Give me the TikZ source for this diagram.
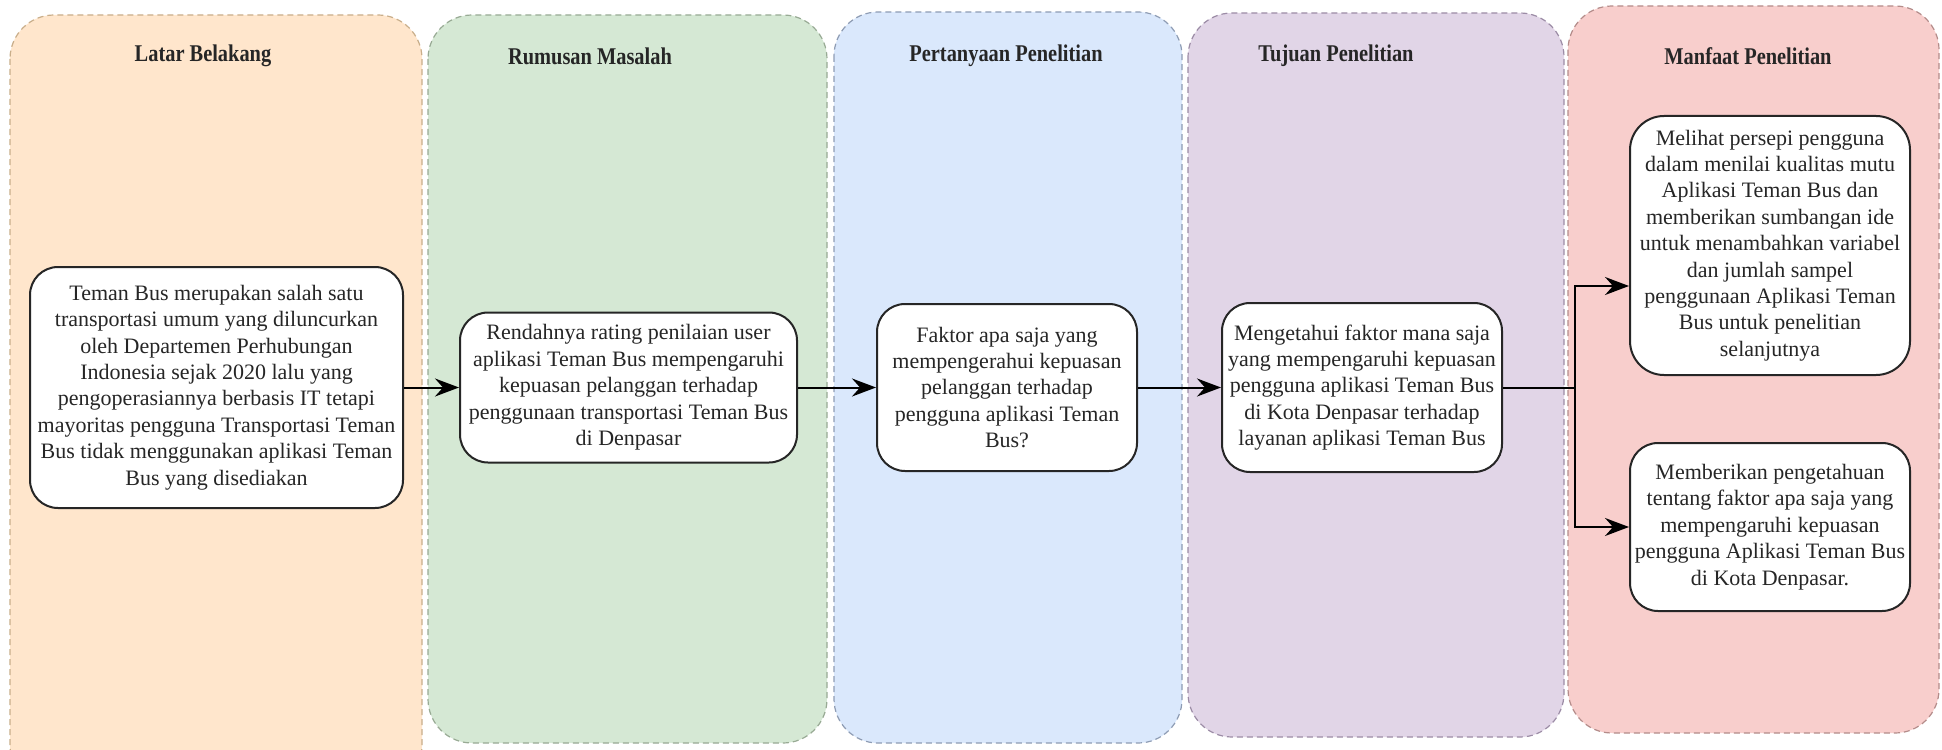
\documentclass[tikz,border=0pt]{standalone}
\usepackage{fontspec}
\setmainfont{Liberation Serif}
\newfontfamily\titlefont[FakeStretch=0.85]{Liberation Serif}
\usetikzlibrary{arrows.meta}
\definecolor{orfill}{HTML}{FFE6CC}\definecolor{ordraw}{HTML}{C9AE8A}
\definecolor{grfill}{HTML}{D5E8D4}\definecolor{grdraw}{HTML}{98AA94}
\definecolor{blfill}{HTML}{DAE8FC}\definecolor{bldraw}{HTML}{8E9CB4}
\definecolor{pufill}{HTML}{E1D5E7}\definecolor{pudraw}{HTML}{9C8CA6}
\definecolor{refill}{HTML}{F8CECC}\definecolor{redraw}{HTML}{B48C8A}
\definecolor{txt}{HTML}{262626}
\tikzset{
  panel/.style={line width=0.6pt, dash pattern=on 3pt off 2pt, rounded corners=22pt},
  ptitle/.style={font=\titlefont\bfseries\fontsize{12}{14}\selectfont, text=txt, inner sep=0pt},
  box/.style={draw=black!85, line width=1pt, fill=white, rounded corners=14pt, align=center,
    font=\fontsize{11}{13.2}\selectfont, text=txt, inner sep=0pt},
  conn/.style={draw=black, line width=1pt},
  arr/.style={conn, -{Stealth[length=12pt,width=9pt,inset=4pt]}}
}
\begin{document}
\begin{tikzpicture}[x=0.5pt,y=-0.5pt]
\useasboundingbox (0,0) rectangle (1942,749);
\fill[white] (0,0) rectangle (1942,749);
\clip (0,0) rectangle (1942,749);
% panels
\path[panel, fill=orfill, draw=ordraw] (10,15) rectangle (422,790);
\path[panel, fill=grfill, draw=grdraw] (428,15) rectangle (827,743);
\path[panel, fill=blfill, draw=bldraw] (834,12) rectangle (1182,743);
\path[panel, fill=pufill, draw=pudraw] (1188,13) rectangle (1564,737);
\path[panel, fill=refill, draw=redraw] (1568,6) rectangle (1939,733);
% titles
\node[ptitle] (t1) at (203,56) {Latar Belakang};
\node[ptitle] (t2) at (590,56) {Rumusan Masalah};
\node[ptitle] (t3) at (1006,56) {Pertanyaan Penelitian};
\node[ptitle] (t4) at (1336,56) {Tujuan Penelitian};
\node[ptitle] (t5) at (1748,56) {Manfaat Penelitian};
% boxes
\node[box, minimum width=373pt*0.5, minimum height=241pt*0.5] (b1) at (216.5,387.5)
 {Teman Bus merupakan salah satu\\transportasi umum yang diluncurkan\\oleh Departemen Perhubungan\\Indonesia sejak 2020 lalu yang\\pengoperasiannya berbasis IT tetapi\\mayoritas pengguna Transportasi Teman\\Bus tidak menggunakan aplikasi Teman\\Bus yang disediakan};
\node[box, minimum width=337pt*0.5, minimum height=150pt*0.5] (b2) at (628.5,387.5)
 {Rendahnya rating penilaian user\\aplikasi Teman Bus mempengaruhi\\kepuasan pelanggan terhadap\\penggunaan transportasi Teman Bus\\di Denpasar};
\node[box, minimum width=260pt*0.5, minimum height=167pt*0.5] (b3) at (1007,387.5)
 {Faktor apa saja yang\\mempengerahui kepuasan\\pelanggan terhadap\\pengguna aplikasi Teman\\Bus?};
\node[box, minimum width=280pt*0.5, minimum height=169pt*0.5] (b4) at (1362,387.5)
 {Mengetahui faktor mana saja\\yang mempengaruhi kepuasan\\pengguna aplikasi Teman Bus\\di Kota Denpasar terhadap\\layanan aplikasi Teman Bus};
\node[box, minimum width=280pt*0.5, minimum height=259pt*0.5, rounded corners=17pt] (b5) at (1770,245.5)
 {Melihat persepi pengguna\\dalam menilai kualitas mutu\\Aplikasi Teman Bus dan\\memberikan sumbangan ide\\untuk menambahkan variabel\\dan jumlah sampel\\penggunaan Aplikasi Teman\\Bus untuk penelitian\\selanjutnya};
\node[box, minimum width=280pt*0.5, minimum height=168pt*0.5] (b6) at (1770,527)
 {Memberikan pengetahuan\\tentang faktor apa saja yang\\mempengaruhi kepuasan\\pengguna Aplikasi Teman Bus\\di Kota Denpasar.};
% connectors
\coordinate (j) at (1575,387.5);
\coordinate (y5) at (0,286);
\draw[arr] (b1.east) -- (b2.west);
\draw[arr] (b2.east) -- (b3.west);
\draw[arr] (b3.east) -- (b4.west);
\draw[conn] (b4.east) -- (j);
\draw[arr] (j) |- (b5.west |- y5);
\draw[arr] (j) |- (b6.west);
\end{tikzpicture}
\end{document}
